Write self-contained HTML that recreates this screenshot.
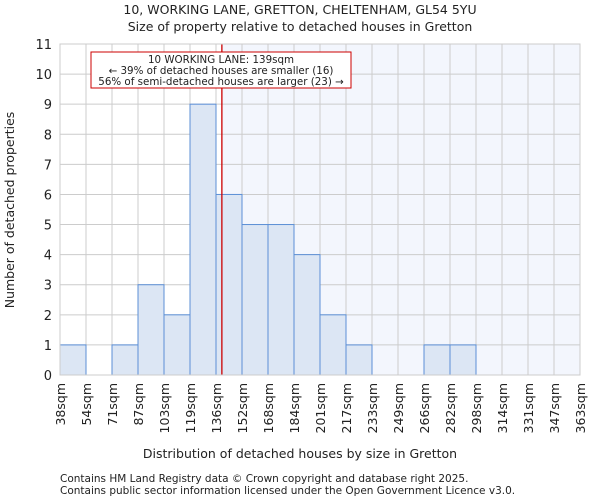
<!DOCTYPE html>
<html><head><meta charset="utf-8"><style>
body{margin:0;background:#fff;font-family:"DejaVu Sans","Liberation Sans",sans-serif;}
svg text{font-family:"DejaVu Sans","Liberation Sans",sans-serif;fill:#222;}
</style></head><body>
<svg id="chart" width="600" height="500" xmlns="http://www.w3.org/2000/svg">
<text x="300" y="14" text-anchor="middle" font-size="12.5">10, WORKING LANE, GRETTON, CHELTENHAM, GL54 5YU</text>
<text x="300" y="31" text-anchor="middle" font-size="12.5">Size of property relative to detached houses in Gretton</text>
<g id="plot"></g>
<text x="300" y="458" text-anchor="middle" font-size="12.5">Distribution of detached houses by size in Gretton</text>
<text transform="translate(14,210) rotate(-90)" text-anchor="middle" font-size="12.5">Number of detached properties</text>
<text x="60" y="482" font-size="10.5">Contains HM Land Registry data © Crown copyright and database right 2025.</text>
<text x="60" y="494" font-size="10.5">Contains public sector information licensed under the Open Government Licence v3.0.</text>
</svg>
<script>
const binLabels=["38sqm","54sqm","71sqm","87sqm","103sqm","119sqm","136sqm","152sqm","168sqm","184sqm","201sqm","217sqm","233sqm","249sqm","266sqm","282sqm","298sqm","314sqm","331sqm","347sqm","363sqm"];
const binEdges=[38,54,71,87,103,119,136,152,168,184,201,217,233,249,266,282,298,314,331,347,363];
const counts=[1,0,1,3,2,9,6,5,5,4,2,1,0,0,1,1,0,0,0,0];
const yTicks=[0,1,2,3,4,5,6,7,8,9,10,11];
const markerValue=139;
const NS="http://www.w3.org/2000/svg";
const X0=60,X1=580,Y0=375,Y1=44,YMAX=11;
const nb=counts.length;
function xIdx(i){return X0+(X1-X0)*i/nb;}
function xVal(v){let i=0;while(i<nb-1&&v>binEdges[i+1])i++;return xIdx(i+(v-binEdges[i])/(binEdges[i+1]-binEdges[i]));}
function y(v){return Y0-(Y0-Y1)*v/YMAX;}
const g=document.getElementById('plot');
function mk(t,a){const e=document.createElementNS(NS,t);for(const k in a)e.setAttribute(k,a[k]);g.appendChild(e);return e;}
const mx=xVal(markerValue)+1;
let e=mk('rect',{x:X0,y:Y1,width:mx-X0,height:Y0-Y1,fill:'#ffffff'});


e=mk('rect',{x:mx,y:Y1,width:X1-mx,height:Y0-Y1,fill:'#f3f6fd'});


yTicks.forEach(t=>{
 e=mk('line',{x1:X0,x2:X1,y1:y(t),y2:y(t),stroke:'#cccccc','stroke-width':1});
 
 
 e=mk('text',{x:X0-8,y:y(t)+5,'text-anchor':'end','font-size':13});
 e.textContent=t;
 
 
});
binLabels.forEach((l,i)=>{
 const x=xIdx(i);
 e=mk('line',{x1:x,x2:x,y1:Y1,y2:Y0,stroke:'#cccccc','stroke-width':1});
 
 
 e=mk('text',{transform:`translate(${x+5},${Y0+8}) rotate(-90)`,'text-anchor':'end','font-size':12.5});
 e.textContent=l;
 
 
});
counts.forEach((c,i)=>{
 if(c<=0)return;
 e=mk('rect',{x:xIdx(i),y:y(c),width:xIdx(i+1)-xIdx(i),height:Y0-y(c),fill:'#dce6f4',stroke:'#5b8fd6','stroke-width':1});
 
 
});
e=mk('line',{x1:mx,x2:mx,y1:Y1,y2:Y0,stroke:'#cc0000','stroke-width':1.3});


e=mk('rect',{x:91,y:52,width:260,height:36,fill:'#fff',stroke:'#cc0000','stroke-width':1});


[["10 WORKING LANE: 139sqm",63],["← 39% of detached houses are smaller (16)",74],["56% of semi-detached houses are larger (23) →",85]].forEach(([t,yy])=>{
 e=mk('text',{x:221,y:yy,'text-anchor':'middle','font-size':10.3});
 e.textContent=t;
 
 
});
e=mk('rect',{x:X0,y:Y1,width:X1-X0,height:Y0-Y1,fill:'none',stroke:'#cccccc','stroke-width':1});


</script>
</body></html>
